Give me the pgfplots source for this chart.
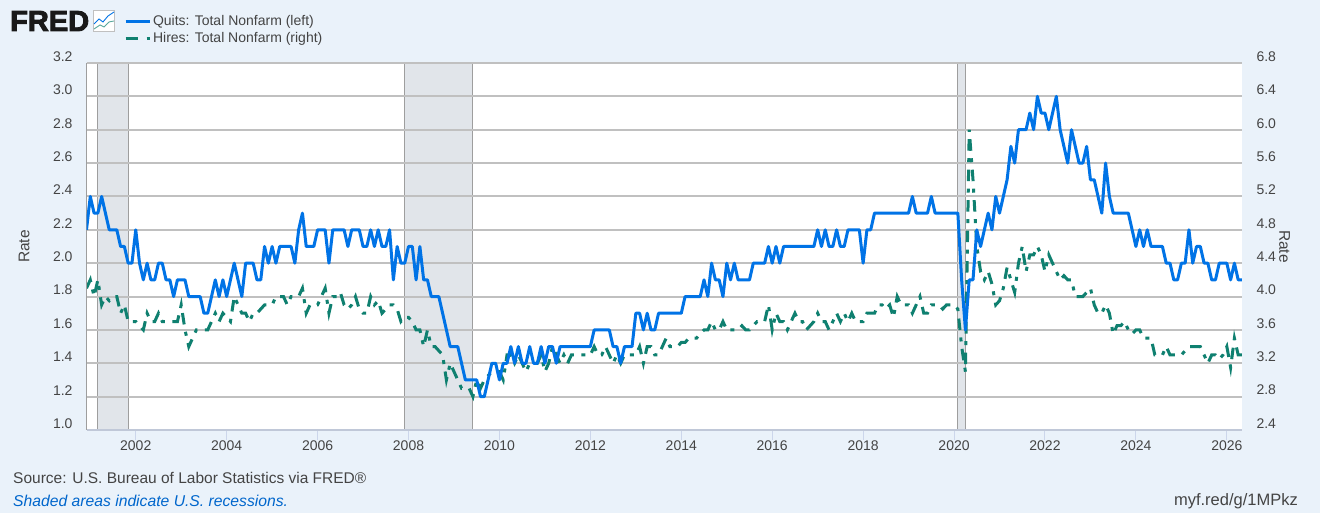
\documentclass[border=0pt]{standalone}
\usepackage{pgfplots}
\pgfplotsset{compat=1.18}
\usepackage{fontspec}
\setmainfont{Liberation Sans}
\definecolor{bgc}{HTML}{EAF2FA}
\definecolor{gridc}{HTML}{C0C0C0}
\definecolor{axc}{HTML}{C0C8D8}
\definecolor{tickc}{HTML}{CCD6EB}
\definecolor{recf}{HTML}{E1E5EA}
\definecolor{recl}{HTML}{9E9E9E}
\definecolor{quits}{HTML}{0073E6}
\definecolor{hires}{HTML}{0F8070}
\definecolor{txt}{HTML}{444444}
\definecolor{linkc}{HTML}{0066CC}
\tikzset{hdash/.style={dash pattern=on 11.5pt off 7.5pt on 4pt off 7.5pt}}
\pgfplotsset{base/.style={
  scale only axis, width=1155.5pt, height=367pt,
  at={(86.5pt,83pt)}, anchor=south west,
  xmin=0, xmax=305,
  /pgf/number format/assume math mode=true,
  /pgf/number format/fixed, /pgf/number format/fixed zerofill, /pgf/number format/precision=1,
  tick label style={font=\fontsize{14}{16}\selectfont, text=txt},
  label style={font=\fontsize{15.5}{17}\selectfont, text=txt},
}}
\begin{document}
\begin{tikzpicture}
\fill[bgc] (0,0) rectangle (1320pt,513pt);
\useasboundingbox (0,0) rectangle (1320pt,513pt);
% recession bands
\begin{axis}[base, ymin=0, ymax=1, hide axis, axis background/.style={fill=white}]
\addplot[fill=recf, draw=recl, line width=1pt] coordinates {(3,-1)(11,-1)(11,2)(3,2)} -- cycle;
\addplot[fill=recf, draw=recl, line width=1pt] coordinates {(84,-1)(102,-1)(102,2)(84,2)} -- cycle;
\addplot[fill=recf, draw=recl, line width=1pt] coordinates {(230,-1)(232,-1)(232,2)(230,2)} -- cycle;
\end{axis}
% right axis: hires and the grid
\begin{axis}[base, ymin=2.4, ymax=6.8, ytick={2.4,2.8,...,6.8}, axis y line*=right, axis x line=none,
  ymajorgrids, grid style={draw=gridc, line width=2pt},
  axis line style={draw=none}, ytick style={draw=none},
  yticklabel style={yshift=6.5pt, xshift=11pt},
  ylabel=Rate, ylabel style={at={(axis description cs:1.037,0.5)}, anchor=center, rotate=180}]
\addplot[hires, line width=3pt, hdash] coordinates {
(0,4.1)(1,4.2)(2,4.0)(3,4.2)(4,3.9)(5,4.0)(6,3.95)(7,4.0)(8,4.0)(9,3.8)(10,3.9)(11,3.7)(12,3.7)(13,3.7)(14,3.65)(15,3.6)(16,3.8)(17,3.7)(18,3.7)(19,3.8)
(20,3.7)(21,3.7)(22,3.7)(23,3.7)(24,3.7)(25,3.9)(26,3.6)(27,3.4)(28,3.5)(29,3.6)(30,3.6)(31,3.6)(32,3.6)(33,3.7)(34,3.8)(35,3.7)(36,3.8)(37,3.75)(38,3.7)(39,4.0)
(40,3.9)(41,3.8)(42,3.8)(43,3.7)(44,3.8)(45,3.8)(46,3.85)(47,3.9)(48,3.9)(49,3.9)(50,4.0)(51,4.0)(52,4.0)(53,3.9)(54,4.0)(55,4.0)(56,4.0)(57,4.1)(58,3.8)(59,3.9)
(60,3.9)(61,3.9)(62,4.0)(63,4.1)(64,3.8)(65,4.0)(66,4.0)(67,4.05)(68,3.9)(69,3.85)(70,3.9)(71,4.0)(72,3.85)(73,3.8)(74,3.8)(75,4.0)(76,3.9)(77,3.95)(78,3.8)(79,3.85)
(80,3.9)(81,3.9)(82,3.85)(83,3.7)(84,3.75)(85,3.75)(86,3.7)(87,3.6)(88,3.6)(89,3.4)(90,3.6)(91,3.4)(92,3.4)(93,3.35)(94,3.3)(95,3.0)(96,3.2)(97,3.1)(98,3.0)(99,2.9)
(100,2.9)(101,2.9)(102,2.8)(103,3.0)(104,2.9)(105,3.0)(106,3.05)(107,3.1)(108,3.1)(109,3.1)(110,3.0)(111,3.3)(112,3.3)(113,3.2)(114,3.3)(115,3.2)(116,3.1)(117,3.2)(118,3.2)(119,3.2)
(120,3.3)(121,3.1)(122,3.2)(123,3.4)(124,3.3)(125,3.2)(126,3.3)(127,3.2)(128,3.3)(129,3.3)(130,3.3)(131,3.3)(132,3.3)(133,3.3)(134,3.4)(135,3.3)(136,3.3)(137,3.4)(138,3.3)(139,3.2)
(140,3.3)(141,3.2)(142,3.3)(143,3.3)(144,3.3)(145,3.3)(146,3.4)(147,3.2)(148,3.4)(149,3.4)(150,3.3)(151,3.3)(152,3.4)(153,3.5)(154,3.4)(155,3.4)(156,3.4)(157,3.45)(158,3.45)(159,3.5)
(160,3.5)(161,3.5)(162,3.55)(163,3.6)(164,3.6)(165,3.7)(166,3.6)(167,3.6)(168,3.7)(169,3.6)(170,3.6)(171,3.6)(172,3.6)(173,3.65)(174,3.6)(175,3.6)(176,3.65)(177,3.7)(178,3.7)(179,3.7)
(180,3.9)(181,3.6)(182,3.8)(183,3.7)(184,3.7)(185,3.6)(186,3.7)(187,3.8)(188,3.7)(189,3.7)(190,3.6)(191,3.65)(192,3.7)(193,3.8)(194,3.7)(195,3.7)(196,3.6)(197,3.7)(198,3.8)(199,3.7)
(200,3.8)(201,3.7)(202,3.8)(203,3.7)(204,3.7)(205,3.7)(206,3.8)(207,3.8)(208,3.8)(209,3.9)(210,3.9)(211,3.85)(212,3.9)(213,3.75)(214,4.0)(215,3.9)(216,3.9)(217,3.9)(218,3.8)(219,3.9)
(220,4.0)(221,3.8)(222,3.8)(223,3.9)(224,3.9)(225,3.9)(226,3.85)(227,3.9)(228,3.9)(229,3.9)(230,3.85)(231,3.4)(232,3.1)(233,6.0)(234,5.4)(235,4.6)(236,4.3)(237,4.2)(238,4.3)(239,4.15)
(240,3.9)(241,3.95)(242,4.1)(243,4.35)(244,4.2)(245,4.05)(246,4.4)(247,4.6)(248,4.3)(249,4.5)(250,4.5)(251,4.6)(252,4.5)(253,4.3)(254,4.5)(255,4.4)(256,4.3)(257,4.2)(258,4.25)(259,4.2)
(260,4.2)(261,4.0)(262,4.0)(263,4.0)(264,4.05)(265,4.1)(266,3.9)(267,3.8)(268,3.8)(269,3.9)(270,3.8)(271,3.55)(272,3.65)(273,3.65)(274,3.7)(275,3.6)(276,3.55)(277,3.6)(278,3.6)(279,3.5)
(280,3.5)(281,3.5)(282,3.3)(283,3.3)(284,3.3)(285,3.4)(286,3.3)(287,3.3)(288,3.3)(289,3.3)(290,3.35)(291,3.4)(292,3.4)(293,3.4)(294,3.4)(295,3.3)(296,3.2)(297,3.3)(298,3.3)(299,3.25)
(300,3.3)(301,3.4)(302,3.15)(303,3.5)(304,3.3)(305,3.3)};
\end{axis}
% left axis: quits, legend
\begin{axis}[base, ymin=1.0, ymax=3.2, ytick={1.0,1.2,...,3.2}, axis y line*=left,
  axis x line*=bottom,
  x axis line style={draw=axc, line width=1.6pt, -},
  y axis line style={draw=recl, line width=1pt, -},
  xtick={13,37,61,85,109,133,157,181,205,229,253,277,301},
  xticklabels={2002,2004,2006,2008,2010,2012,2014,2016,2018,2020,2022,2024,2026},
  xtick style={draw=tickc, line width=1pt},
  tick align=outside, major tick length=10pt,
  ytick style={draw=none},
  xticklabel style={yshift=3pt},
  yticklabel style={yshift=6.5pt, xshift=-0.5pt},
  ylabel=Rate, ylabel style={at={(axis description cs:-0.054,0.5)}, anchor=center},
  legend style={at={(0.0325,1.1345)}, anchor=north west, draw=none, fill=none, font=\fontsize{14}{15}\selectfont, text=txt, cells={anchor=west}, row sep=1.5pt, inner sep=0pt, outer sep=0pt, legend cell align=left},
  legend image code/.code={\draw[#1] (-2pt,0pt) -- (22pt,0pt);}]
\addplot[quits, line width=3pt, line join=round] coordinates {
(0,2.2)(1,2.4)(2,2.3)(3,2.3)(4,2.4)(5,2.3)(6,2.2)(7,2.2)(8,2.2)(9,2.1)(10,2.1)(11,2.0)(12,2.0)(13,2.2)(14,2.0)(15,1.9)(16,2.0)(17,1.9)(18,1.9)(19,2.0)
(20,2.0)(21,1.9)(22,1.9)(23,1.8)(24,1.9)(25,1.9)(26,1.9)(27,1.8)(28,1.8)(29,1.8)(30,1.8)(31,1.7)(32,1.7)(33,1.8)(34,1.9)(35,1.8)(36,1.9)(37,1.8)(38,1.9)(39,2.0)
(40,1.9)(41,1.8)(42,2.0)(43,2.0)(44,2.0)(45,1.9)(46,1.9)(47,2.1)(48,2.0)(49,2.1)(50,2.0)(51,2.1)(52,2.1)(53,2.1)(54,2.1)(55,2.0)(56,2.2)(57,2.3)(58,2.1)(59,2.1)
(60,2.1)(61,2.2)(62,2.2)(63,2.2)(64,2.0)(65,2.2)(66,2.2)(67,2.2)(68,2.2)(69,2.1)(70,2.2)(71,2.2)(72,2.2)(73,2.1)(74,2.1)(75,2.2)(76,2.1)(77,2.2)(78,2.1)(79,2.1)
(80,2.2)(81,1.9)(82,2.1)(83,2.0)(84,2.0)(85,2.1)(86,2.1)(87,1.9)(88,2.1)(89,1.9)(90,1.9)(91,1.8)(92,1.8)(93,1.8)(94,1.7)(95,1.6)(96,1.5)(97,1.5)(98,1.5)(99,1.4)
(100,1.3)(101,1.3)(102,1.3)(103,1.3)(104,1.2)(105,1.2)(106,1.3)(107,1.4)(108,1.4)(109,1.3)(110,1.4)(111,1.4)(112,1.5)(113,1.4)(114,1.5)(115,1.4)(116,1.4)(117,1.5)(118,1.4)(119,1.4)
(120,1.5)(121,1.4)(122,1.5)(123,1.5)(124,1.4)(125,1.5)(126,1.5)(127,1.5)(128,1.5)(129,1.5)(130,1.5)(131,1.5)(132,1.5)(133,1.5)(134,1.6)(135,1.6)(136,1.6)(137,1.6)(138,1.6)(139,1.5)
(140,1.5)(141,1.4)(142,1.5)(143,1.5)(144,1.5)(145,1.7)(146,1.7)(147,1.6)(148,1.7)(149,1.6)(150,1.6)(151,1.7)(152,1.7)(153,1.7)(154,1.7)(155,1.7)(156,1.7)(157,1.7)(158,1.8)(159,1.8)
(160,1.8)(161,1.8)(162,1.8)(163,1.9)(164,1.8)(165,2.0)(166,1.9)(167,1.9)(168,1.8)(169,2.0)(170,1.9)(171,2.0)(172,1.9)(173,1.9)(174,1.9)(175,1.9)(176,2.0)(177,2.0)(178,2.0)(179,2.0)
(180,2.1)(181,2.0)(182,2.1)(183,2.0)(184,2.1)(185,2.1)(186,2.1)(187,2.1)(188,2.1)(189,2.1)(190,2.1)(191,2.1)(192,2.1)(193,2.2)(194,2.1)(195,2.2)(196,2.1)(197,2.1)(198,2.2)(199,2.1)
(200,2.1)(201,2.2)(202,2.2)(203,2.2)(204,2.2)(205,2.0)(206,2.2)(207,2.2)(208,2.3)(209,2.3)(210,2.3)(211,2.3)(212,2.3)(213,2.3)(214,2.3)(215,2.3)(216,2.3)(217,2.3)(218,2.4)(219,2.3)
(220,2.3)(221,2.3)(222,2.3)(223,2.4)(224,2.3)(225,2.3)(226,2.3)(227,2.3)(228,2.3)(229,2.3)(230,2.3)(231,1.9)(232,1.6)(233,1.9)(234,1.9)(235,2.2)(236,2.1)(237,2.2)(238,2.3)(239,2.2)
(240,2.4)(241,2.3)(242,2.4)(243,2.5)(244,2.7)(245,2.6)(246,2.8)(247,2.8)(248,2.8)(249,2.9)(250,2.8)(251,3.0)(252,2.9)(253,2.9)(254,2.8)(255,2.9)(256,3.0)(257,2.8)(258,2.7)(259,2.6)
(260,2.8)(261,2.7)(262,2.6)(263,2.6)(264,2.7)(265,2.5)(266,2.5)(267,2.4)(268,2.3)(269,2.6)(270,2.4)(271,2.3)(272,2.3)(273,2.3)(274,2.3)(275,2.3)(276,2.2)(277,2.1)(278,2.2)(279,2.1)
(280,2.2)(281,2.1)(282,2.1)(283,2.1)(284,2.1)(285,2.0)(286,2.0)(287,1.9)(288,1.9)(289,2.0)(290,2.0)(291,2.2)(292,2.0)(293,2.1)(294,2.1)(295,2.0)(296,2.0)(297,1.9)(298,1.9)(299,2.0)
(300,2.0)(301,2.0)(302,1.9)(303,2.0)(304,1.9)(305,1.9)};
\addlegendentry{Quits: Total Nonfarm (left)}
\addlegendimage{hires, line width=3pt, dash pattern=on 12pt off 9pt on 3pt off 9pt}
\addlegendentry{Hires: Total Nonfarm (right)}
\end{axis}
% header: logo
\node[anchor=west, inner sep=0pt, text=black!90] at (10pt,492pt) {\fontsize{29}{30}\selectfont\bfseries\special{pdf:code 2 Tr 0.9 w}FRED\special{pdf:code 0 Tr 0.4 w}};
\draw[gridc, fill=white, line width=0.6pt] (93.5pt,481.5pt) rectangle (114.5pt,502.5pt);
\draw[quits, line width=0.9pt] (94pt,489pt) -- (99pt,494pt) -- (103pt,491pt) -- (108pt,497pt) -- (114pt,501pt);
\draw[hires!70, line width=0.9pt] (94pt,484pt) -- (100pt,488pt) -- (104pt,486pt) -- (109pt,491pt) -- (114pt,492pt);
% footer
\node[anchor=west, inner sep=0pt, text=txt] at (13pt,35pt) {\fontsize{15.5}{17}\selectfont Source: U.S. Bureau of Labor Statistics via FRED®};
\node[anchor=west, inner sep=0pt, text=linkc] at (13pt,12pt) {\fontsize{15.7}{17}\selectfont\itshape Shaded areas indicate U.S. recessions.};
\node[anchor=east, inner sep=0pt, text=txt] at (1298pt,12pt) {\fontsize{16.5}{18}\selectfont myf.red/g/1MPkz};
\end{tikzpicture}
\end{document}
